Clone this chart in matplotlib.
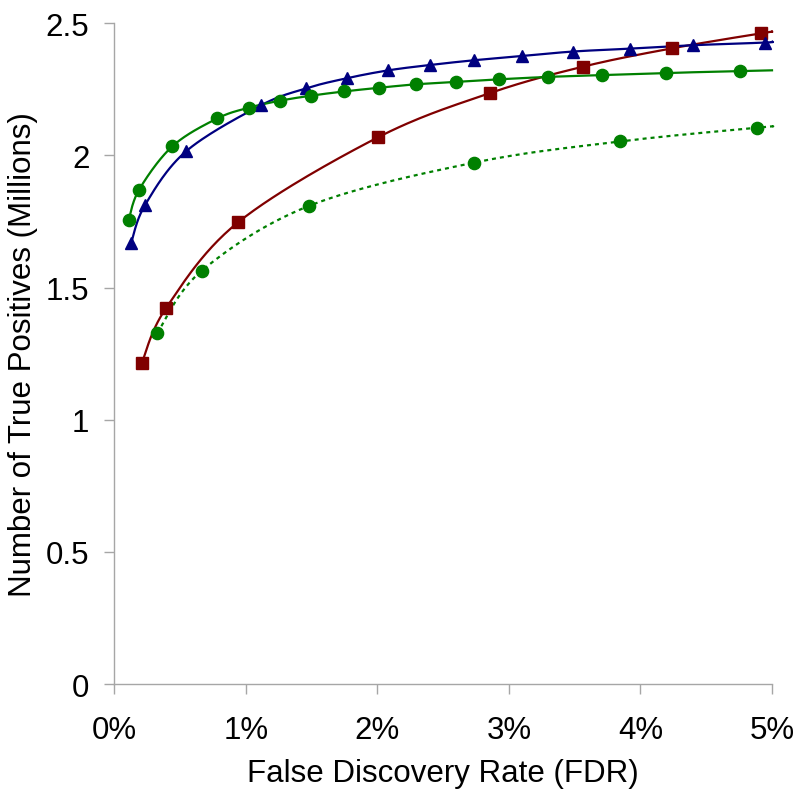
import numpy as np
import matplotlib
matplotlib.use("Agg")
import matplotlib.pyplot as plt
from matplotlib.ticker import FuncFormatter

plt.rcParams['font.family'] = ['Liberation Sans', 'DejaVu Sans']

# ---- data (FDR in %, true positives in millions) ----
green_x = [0.107, 0.188, 0.441, 0.782, 1.025, 1.258, 1.494, 1.745, 2.012, 2.291,
           2.595, 2.925, 3.295, 3.706, 4.196, 4.759]
green_y = [1.754, 1.871, 2.035, 2.140, 2.181, 2.207, 2.226, 2.242, 2.256, 2.269,
           2.278, 2.288, 2.297, 2.304, 2.312, 2.319]
green_end = (5.0, 2.322)

blue_x = [0.126, 0.231, 0.543, 1.111, 1.459, 1.766, 2.083, 2.396, 2.732, 3.097,
          3.483, 3.917, 4.401, 4.947]
blue_y = [1.667, 1.811, 2.015, 2.189, 2.254, 2.292, 2.322, 2.342, 2.360, 2.376,
          2.393, 2.404, 2.417, 2.427]
blue_end = (5.0, 2.430)

red_x = [0.208, 0.393, 0.940, 2.002, 2.856, 3.564, 4.237, 4.916]
red_y = [1.215, 1.423, 1.747, 2.068, 2.236, 2.336, 2.405, 2.462]
red_end = (5.0, 2.468)

dot_x = [0.325, 0.662, 1.479, 2.737, 3.846, 4.888]
dot_y = [1.328, 1.563, 1.809, 1.973, 2.053, 2.105]
dot_end = (5.0, 2.109)

x_ticks = [0, 1, 2, 3, 4, 5]
y_ticks = [0, 0.5, 1, 1.5, 2, 2.5]

GREEN = '#008000'
BLUE = '#000080'
RED = '#800000'


def smooth(xs, ys, xscale=5.0, yscale=2.5, n=30):
    """Catmull-Rom (Excel-like) smoothing in normalized coordinates."""
    p = np.column_stack([np.asarray(xs) / xscale, np.asarray(ys) / yscale])
    pts = np.vstack([p[0], p, p[-1]])
    out = []
    t = np.linspace(0, 1, n)[:, None]
    for i in range(1, len(pts) - 2):
        p0, p1, p2, p3 = pts[i - 1], pts[i], pts[i + 1], pts[i + 2]
        c1 = p1 + (p2 - p0) / 6.0
        c2 = p2 - (p3 - p1) / 6.0
        seg = ((1 - t) ** 3) * p1 + 3 * ((1 - t) ** 2) * t * c1 + 3 * (1 - t) * t ** 2 * c2 + t ** 3 * p2
        out.append(seg if i == 1 else seg[1:])
    out = np.vstack(out)
    return out[:, 0] * xscale, out[:, 1] * yscale


fig = plt.figure(figsize=(8.0, 8.04), dpi=100)
ax = fig.add_axes([0.1431, 0.148, 0.8219, 0.8218])

series = [
    (red_x, red_y, red_end, RED, 's', '-'),
    (dot_x, dot_y, dot_end, GREEN, 'o', (0, (1.8, 1.8))),
    (blue_x, blue_y, blue_end, BLUE, '^', '-'),
    (green_x, green_y, green_end, GREEN, 'o', '-'),
]
for xs, ys, end, col, mk, ls in series:
    lx, ly = smooth(list(xs) + [end[0]], list(ys) + [end[1]])
    ax.plot(lx, ly, color=col, lw=1.6, ls=ls, clip_on=False, zorder=2)
    ax.plot(xs, ys, ls='none', marker=mk, ms=8.8, color=col, mec=col,
            clip_on=False, zorder=3)

ax.set_xlim(0, 5)
ax.set_ylim(0, 2.5)
ax.set_xticks(x_ticks)
ax.set_yticks(y_ticks)
ax.xaxis.set_major_formatter(FuncFormatter(lambda v, p: f"{v:g}%"))
ax.yaxis.set_major_formatter(FuncFormatter(lambda v, p: f"{v:g}"))

for s in ['top', 'right']:
    ax.spines[s].set_visible(False)
for s in ['left', 'bottom']:
    ax.spines[s].set_color('#a6a6a6')
    ax.spines[s].set_linewidth(1.0)

FS = 22.5
ax.tick_params(axis='both', direction='out', length=7, width=1.0,
               color='#a6a6a6', labelsize=FS, labelcolor='black')
ax.tick_params(axis='x', pad=15)
ax.tick_params(axis='y', pad=11)

ax.set_xlabel('False Discovery Rate (FDR)', fontsize=FS, labelpad=10)
ax.set_ylabel('Number of True Positives (Millions)', fontsize=FS, labelpad=6)

fig.savefig('out.png', dpi=100, facecolor='white')
